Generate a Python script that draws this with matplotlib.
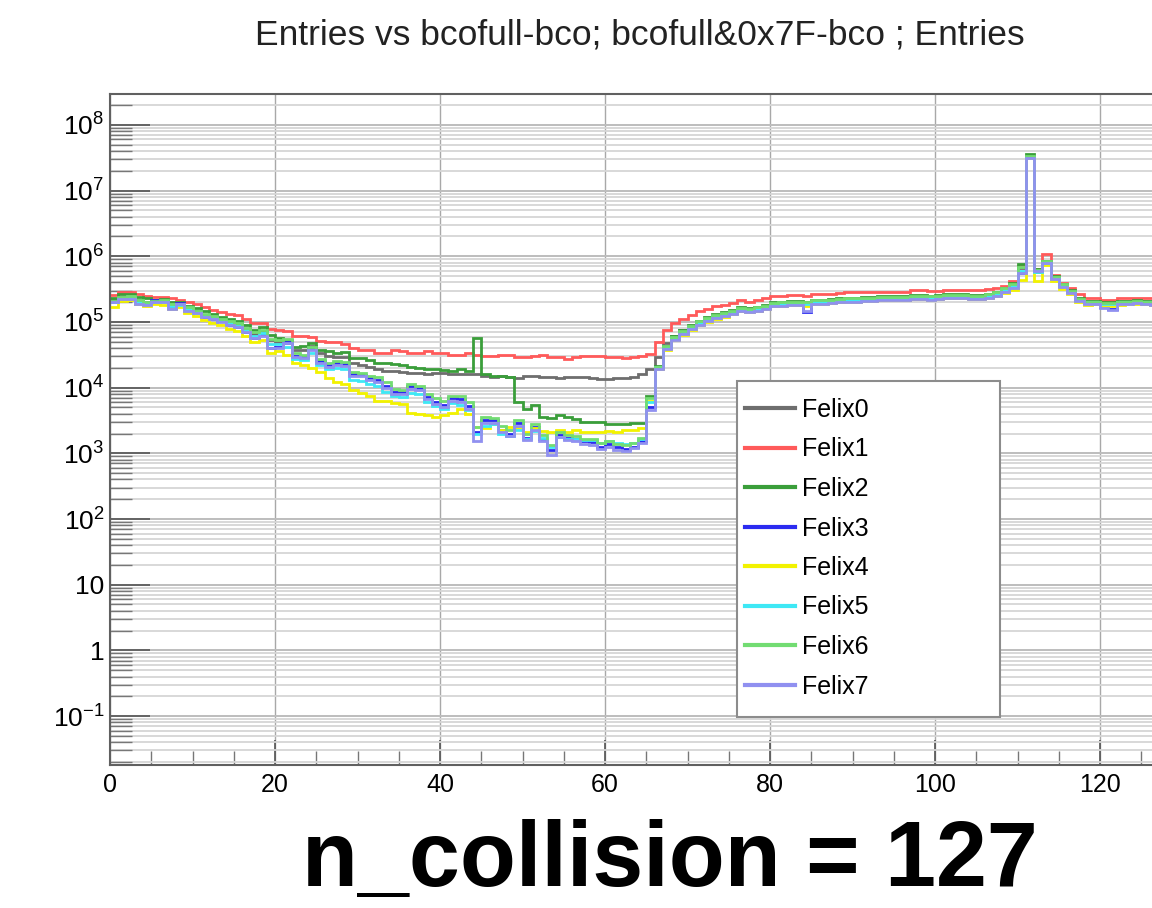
import numpy as np
import matplotlib.pyplot as plt
from matplotlib.lines import Line2D
from matplotlib.patches import Rectangle
from matplotlib.ticker import LogLocator, NullFormatter, MultipleLocator

plt.rcParams['font.family'] = ['Liberation Sans', 'DejaVu Sans']
plt.rcParams['mathtext.fontset'] = 'custom'
plt.rcParams['mathtext.rm'] = 'Liberation Sans'
plt.rcParams['mathtext.it'] = 'Liberation Sans:italic'
plt.rcParams['mathtext.bf'] = 'Liberation Sans:bold'

title = "Entries vs bcofull-bco; bcofull&0x7F-bco ; Entries"
note = "n_collision = 127"

# histogram binning: bcofull&0x7F - bco, one bin per unit
bin_edges = np.arange(0, 129)

series_names = ["Felix0", "Felix1", "Felix2", "Felix3", "Felix4", "Felix5", "Felix6", "Felix7"]
series_colors = ["#6e6e6e", "#ff5a5a", "#3a9e3a", "#2b2bf0", "#f2f200", "#3ee8f5", "#72dc72", "#9090f0"]

# log10(entries) per bin
felix0 = [5.33, 5.38, 5.38, 5.34, 5.31, 5.32, 5.32, 5.26, 5.27, 5.21, 5.16, 5.11, 5.07, 5.03, 4.99, 4.96, 4.89, 4.81, 4.86, 4.72, 4.70,
          4.68, 4.58, 4.58, 4.63, 4.52, 4.48, 4.46, 4.46, 4.38, 4.34, 4.32, 4.28, 4.26, 4.25, 4.24, 4.22, 4.22, 4.21, 4.22, 4.22,
          4.21, 4.21, 4.20, 4.20, 4.18, 4.16, 4.17, 4.16, 4.15, 4.17, 4.17, 4.16, 4.16, 4.15, 4.16, 4.16, 4.16, 4.15, 4.13, 4.13, 4.14, 4.15, 4.16, 4.20, 4.28,
          4.47, 4.68, 4.79, 4.87, 4.94, 5.01, 5.06, 5.11, 5.14, 5.17, 5.21, 5.20, 5.22, 5.25, 5.29, 5.30, 5.31, 5.31, 5.30, 5.33, 5.33, 5.34, 5.35, 5.36, 5.36,
          5.37, 5.37, 5.38, 5.38, 5.38, 5.38, 5.40, 5.40, 5.39, 5.40, 5.41, 5.41, 5.41, 5.40, 5.40, 5.42, 5.45, 5.50, 5.58, 5.82,
          7.52, 5.76, 5.92, 5.68, 5.56, 5.47, 5.35, 5.31, 5.31, 5.29, 5.29, 5.31, 5.31, 5.32, 5.31, 5.31, 5.32]
felix1 = [5.41, 5.46, 5.46, 5.42, 5.40, 5.38, 5.38, 5.36, 5.33, 5.30, 5.27, 5.22, 5.18, 5.15, 5.12, 5.10, 5.04, 4.99, 4.99, 4.90, 4.88,
          4.86, 4.78, 4.78, 4.77, 4.71, 4.70, 4.70, 4.67, 4.60, 4.58, 4.57, 4.52, 4.53, 4.57, 4.56, 4.52, 4.53, 4.55, 4.52, 4.52,
          4.50, 4.50, 4.52, 4.50, 4.48, 4.48, 4.50, 4.49, 4.47, 4.46, 4.48, 4.49, 4.47, 4.46, 4.44, 4.47, 4.48, 4.48, 4.48, 4.47, 4.46, 4.45, 4.46, 4.48, 4.51,
          4.70, 4.88, 4.98, 5.05, 5.10, 5.16, 5.20, 5.24, 5.26, 5.29, 5.33, 5.31, 5.33, 5.36, 5.40, 5.40, 5.41, 5.41, 5.40, 5.43, 5.43, 5.43, 5.44, 5.45, 5.45,
          5.46, 5.46, 5.46, 5.46, 5.46, 5.46, 5.48, 5.48, 5.47, 5.47, 5.49, 5.49, 5.49, 5.48, 5.48, 5.50, 5.52, 5.55, 5.62, 5.85,
          7.53, 5.80, 6.03, 5.72, 5.60, 5.52, 5.42, 5.36, 5.37, 5.34, 5.34, 5.37, 5.36, 5.37, 5.36, 5.36, 5.37]
felix2 = [5.36, 5.42, 5.42, 5.38, 5.36, 5.34, 5.35, 5.30, 5.30, 5.25, 5.21, 5.16, 5.12, 5.08, 5.05, 5.02, 4.96, 4.88, 4.92, 4.80, 4.76,
          4.72, 4.62, 4.63, 4.68, 4.57, 4.55, 4.52, 4.54, 4.45, 4.45, 4.42, 4.38, 4.37, 4.36, 4.35, 4.32, 4.30, 4.28, 4.28, 4.27,
          4.26, 4.28, 4.25, 4.76, 4.20, 4.17, 4.17, 4.16, 3.78, 3.68, 3.74, 3.55, 3.53, 3.58, 3.55, 3.52, 3.48, 3.47, 3.47, 3.45, 3.44, 3.45, 3.46, 3.46, 3.88,
          4.33, 4.64, 4.78, 4.87, 4.95, 5.02, 5.07, 5.12, 5.15, 5.18, 5.22, 5.21, 5.23, 5.26, 5.30, 5.31, 5.32, 5.32, 5.31, 5.34, 5.34, 5.35, 5.36, 5.37, 5.37,
          5.38, 5.38, 5.39, 5.39, 5.39, 5.39, 5.41, 5.41, 5.40, 5.41, 5.42, 5.42, 5.42, 5.41, 5.41, 5.43, 5.46, 5.52, 5.60, 5.88,
          7.55, 5.80, 5.93, 5.70, 5.58, 5.48, 5.36, 5.32, 5.32, 5.30, 5.30, 5.32, 5.32, 5.33, 5.32, 5.32, 5.33]
felix3 = [5.31, 5.37, 5.36, 5.28, 5.27, 5.33, 5.32, 5.21, 5.29, 5.17, 5.15, 5.08, 5.05, 5.02, 4.96, 4.93, 4.85, 4.76, 4.80, 4.60, 4.62,
          4.70, 4.48, 4.46, 4.60, 4.40, 4.34, 4.37, 4.36, 4.20, 4.19, 4.14, 4.12, 4.03, 3.93, 3.93, 4.02, 4.00, 3.85, 3.78, 3.74,
          3.84, 3.82, 3.72, 3.32, 3.50, 3.50, 3.36, 3.30, 3.46, 3.24, 3.40, 3.22, 3.05, 3.28, 3.24, 3.22, 3.18, 3.17, 3.10, 3.14, 3.09, 3.06, 3.10, 3.18, 3.70,
          4.30, 4.60, 4.74, 4.82, 4.90, 4.97, 5.02, 5.07, 5.10, 5.13, 5.17, 5.16, 5.18, 5.21, 5.25, 5.26, 5.27, 5.27, 5.15, 5.29, 5.29, 5.30, 5.31, 5.32, 5.32,
          5.33, 5.33, 5.34, 5.34, 5.34, 5.34, 5.36, 5.36, 5.35, 5.36, 5.37, 5.37, 5.37, 5.36, 5.36, 5.38, 5.41, 5.46, 5.52, 5.75,
          7.50, 5.78, 5.90, 5.66, 5.54, 5.45, 5.33, 5.29, 5.29, 5.22, 5.19, 5.28, 5.29, 5.30, 5.29, 5.27, 5.30]
felix4 = [5.22, 5.32, 5.33, 5.27, 5.25, 5.27, 5.26, 5.20, 5.22, 5.13, 5.09, 5.03, 4.99, 4.95, 4.90, 4.86, 4.78, 4.70, 4.72, 4.52, 4.55,
          4.50, 4.38, 4.34, 4.30, 4.24, 4.15, 4.08, 4.06, 3.96, 3.92, 3.88, 3.80, 3.80, 3.77, 3.75, 3.62, 3.60, 3.58, 3.56, 3.58,
          3.62, 3.68, 3.60, 3.40, 3.38, 3.45, 3.36, 3.40, 3.38, 3.32, 3.38, 3.34, 3.32, 3.36, 3.33, 3.35, 3.32, 3.33, 3.32, 3.34, 3.33, 3.35, 3.36, 3.38, 3.80,
          4.28, 4.58, 4.72, 4.80, 4.88, 4.95, 5.00, 5.05, 5.08, 5.12, 5.16, 5.15, 5.17, 5.20, 5.24, 5.25, 5.26, 5.26, 5.25, 5.28, 5.28, 5.29, 5.30, 5.31, 5.31,
          5.32, 5.32, 5.33, 5.33, 5.33, 5.33, 5.35, 5.35, 5.34, 5.35, 5.36, 5.36, 5.36, 5.35, 5.35, 5.37, 5.40, 5.44, 5.48, 5.64,
          7.50, 5.62, 5.86, 5.62, 5.50, 5.42, 5.30, 5.26, 5.27, 5.25, 5.24, 5.26, 5.27, 5.28, 5.27, 5.26, 5.28]
felix5 = [5.30, 5.36, 5.37, 5.31, 5.29, 5.31, 5.31, 5.24, 5.26, 5.19, 5.14, 5.09, 5.06, 5.01, 4.98, 4.94, 4.87, 4.79, 4.83, 4.66, 4.66,
          4.62, 4.44, 4.42, 4.52, 4.35, 4.28, 4.30, 4.28, 4.12, 4.10, 4.05, 4.02, 3.94, 3.88, 3.86, 3.92, 3.90, 3.78, 3.72, 3.68,
          3.76, 3.74, 3.66, 3.30, 3.42, 3.44, 3.30, 3.26, 3.36, 3.22, 3.34, 3.24, 3.10, 3.25, 3.22, 3.22, 3.20, 3.20, 3.16, 3.18, 3.15, 3.14, 3.16, 3.22, 3.78,
          4.31, 4.62, 4.76, 4.84, 4.92, 4.99, 5.04, 5.09, 5.12, 5.15, 5.19, 5.18, 5.20, 5.23, 5.27, 5.28, 5.29, 5.29, 5.28, 5.31, 5.31, 5.32, 5.33, 5.34, 5.34,
          5.35, 5.35, 5.36, 5.36, 5.36, 5.36, 5.38, 5.38, 5.37, 5.38, 5.39, 5.39, 5.39, 5.38, 5.38, 5.40, 5.43, 5.48, 5.55, 5.78,
          7.51, 5.76, 5.90, 5.67, 5.55, 5.46, 5.34, 5.30, 5.30, 5.28, 5.27, 5.30, 5.30, 5.31, 5.30, 5.29, 5.31]
felix6 = [5.32, 5.38, 5.39, 5.33, 5.31, 5.32, 5.33, 5.27, 5.28, 5.22, 5.17, 5.12, 5.09, 5.05, 5.01, 4.98, 4.91, 4.84, 4.88, 4.74, 4.72,
          4.74, 4.52, 4.50, 4.62, 4.44, 4.38, 4.40, 4.39, 4.24, 4.23, 4.18, 4.16, 4.08, 3.98, 3.97, 4.05, 4.03, 3.90, 3.84, 3.80,
          3.88, 3.87, 3.78, 3.40, 3.55, 3.54, 3.42, 3.36, 3.50, 3.30, 3.45, 3.28, 3.12, 3.32, 3.28, 3.26, 3.22, 3.22, 3.16, 3.18, 3.14, 3.12, 3.16, 3.24, 3.84,
          4.32, 4.63, 4.77, 4.86, 4.94, 5.01, 5.06, 5.11, 5.14, 5.17, 5.21, 5.20, 5.22, 5.25, 5.29, 5.30, 5.31, 5.31, 5.30, 5.33, 5.33, 5.34, 5.35, 5.36, 5.36,
          5.37, 5.37, 5.38, 5.38, 5.38, 5.38, 5.40, 5.40, 5.39, 5.40, 5.41, 5.41, 5.41, 5.40, 5.40, 5.42, 5.45, 5.51, 5.58, 5.84,
          7.53, 5.79, 5.92, 5.69, 5.57, 5.47, 5.35, 5.31, 5.31, 5.29, 5.29, 5.31, 5.31, 5.32, 5.31, 5.31, 5.32]
felix7 = [5.30, 5.35, 5.35, 5.27, 5.26, 5.31, 5.30, 5.20, 5.27, 5.16, 5.13, 5.07, 5.04, 5.00, 4.95, 4.92, 4.84, 4.75, 4.79, 4.60, 4.61,
          4.68, 4.47, 4.45, 4.58, 4.38, 4.32, 4.35, 4.33, 4.18, 4.17, 4.12, 4.09, 4.00, 3.91, 3.90, 3.98, 3.96, 3.82, 3.75, 3.70,
          3.80, 3.78, 3.68, 3.18, 3.46, 3.46, 3.32, 3.27, 3.42, 3.21, 3.36, 3.18, 2.97, 3.25, 3.20, 3.18, 3.14, 3.13, 3.07, 3.10, 3.05, 3.04, 3.08, 3.16, 3.66,
          4.29, 4.59, 4.73, 4.81, 4.89, 4.96, 5.01, 5.06, 5.09, 5.12, 5.16, 5.15, 5.17, 5.20, 5.24, 5.25, 5.26, 5.26, 5.16, 5.28, 5.28, 5.29, 5.30, 5.31, 5.31,
          5.32, 5.32, 5.33, 5.33, 5.33, 5.33, 5.35, 5.35, 5.34, 5.35, 5.36, 5.36, 5.36, 5.35, 5.35, 5.37, 5.40, 5.45, 5.51, 5.74,
          7.49, 5.77, 5.89, 5.65, 5.53, 5.44, 5.32, 5.28, 5.28, 5.21, 5.18, 5.27, 5.28, 5.29, 5.28, 5.26, 5.29]

series_values = [felix0, felix1, felix2, felix3, felix4, felix5, felix6, felix7]

ytick_values = [1e-1, 1, 10, 1e2, 1e3, 1e4, 1e5, 1e6, 1e7, 1e8]
ytick_labels = ["$10^{-1}$", "1", "10", "$10^{2}$", "$10^{3}$", "$10^{4}$",
                "$10^{5}$", "$10^{6}$", "$10^{7}$", "$10^{8}$"]
xtick_values = [0, 20, 40, 60, 80, 100, 120]

W, H = 1152, 908
fig = plt.figure(figsize=(W / 100, H / 100), dpi=100)
ax = fig.add_axes([110 / W, 143 / H, 1056 / W, 671 / H])

for name, color, vals in zip(series_names, series_colors, series_values):
    ax.stairs(10 ** np.array(vals), bin_edges, color=color, lw=2, baseline=None, label=name)

ax.set_yscale('log')
ax.set_xlim(0, 128)
ax.set_ylim(0.018, 2.95e8)

ax.set_yticks(ytick_values)
ax.set_yticklabels(ytick_labels)
ax.yaxis.set_minor_locator(LogLocator(base=10, subs=np.arange(2, 10), numticks=30))
ax.yaxis.set_minor_formatter(NullFormatter())
ax.set_xticks(xtick_values)
ax.xaxis.set_minor_locator(MultipleLocator(5))

ax.grid(which='major', axis='x', color='#a8a8a8', lw=1)
ax.grid(which='major', axis='y', color='#bdbdbd', lw=1.4)
ax.grid(which='minor', axis='y', color='#d6d6d6', lw=1.3)
ax.set_axisbelow(True)

ax.tick_params(axis='y', which='major', direction='in', length=29, width=1.2,
               color='#555555', labelsize=19, pad=4, right=False)
ax.tick_params(axis='y', which='minor', direction='in', length=16, width=1, color='#777777')
ax.tick_params(axis='x', which='major', direction='in', length=18, width=1.2,
               color='#555555', labelsize=18, pad=6, top=False)
ax.tick_params(axis='x', which='minor', direction='in', length=10, width=1, color='#777777')

for side in ['left', 'bottom', 'top', 'right']:
    ax.spines[side].set_color('#606060')
    ax.spines[side].set_linewidth(1.5)

# legend box drawn separately so the entries can sit where they do in the original
fig.patches.append(Rectangle((737 / W, 1 - 717 / H), 263 / W, 336 / H, transform=fig.transFigure,
                             facecolor='white', edgecolor='#8c8c8c', lw=1.5, zorder=5))
handles = [Line2D([], [], color=c, lw=3) for c in series_colors]
leg = fig.legend(handles, series_names, loc='upper left',
                 bbox_to_anchor=(745 / W, 1 - 398 / H), borderaxespad=0, borderpad=0,
                 fontsize=18, labelspacing=0.62, handlelength=2.0, handletextpad=0.3,
                 frameon=False)
leg.set_zorder(6)

fig.text(640 / W, 1 - 35 / H, title, ha='center', va='center', fontsize=25.5, color='#222222')
fig.text(670 / W, 1 - 886 / H, note, ha='center', va='baseline', fontsize=66,
         fontweight='bold', color='black')

fig.savefig('out.png', dpi=100)
